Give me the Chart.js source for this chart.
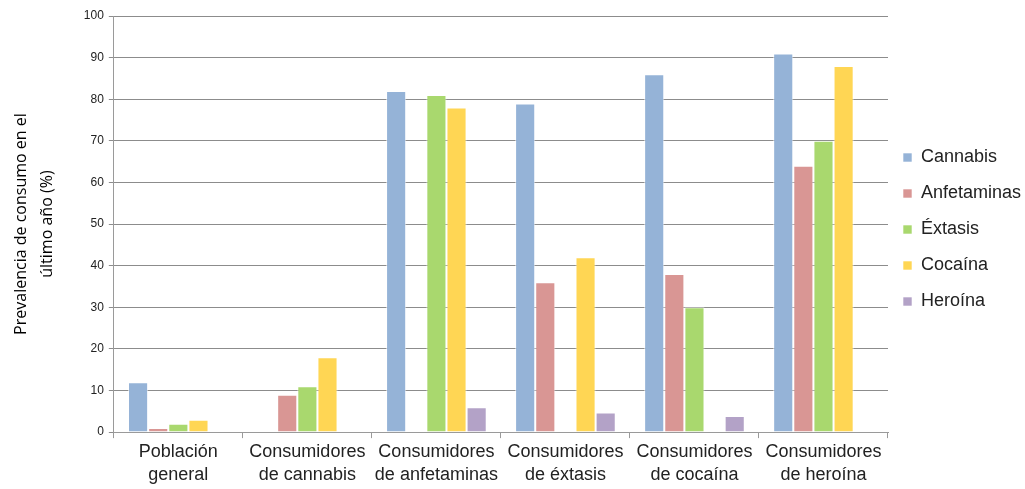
<!DOCTYPE html>
<html>
<head>
<meta charset="utf-8">
<script src="https://cdn.jsdelivr.net/npm/chart.js@4/dist/chart.umd.min.js"></script>
<style>
html,body{margin:0;padding:0;background:#fff;}
#wrap{position:relative;width:1025px;height:489px;}
</style>
</head>
<body>
<div id="wrap"><canvas id="c" width="1025" height="489"></canvas></div>
<script>
const categories = [
  ["Población", "general"],
  ["Consumidores", "de cannabis"],
  ["Consumidores", "de anfetaminas"],
  ["Consumidores", "de éxtasis"],
  ["Consumidores", "de cocaína"],
  ["Consumidores", "de heroína"]
];
const seriesNames = ["Cannabis", "Anfetaminas", "Éxtasis", "Cocaína", "Heroína"];
const cannabis    = [12, null, 82, 79, 86, 91];
const anfetaminas = [1, 9, null, 36, 38, 64];
const extasis     = [2, 11, 81, null, 30, 70];
const cocaina     = [3, 18, 78, 42, null, 88];
const heroina     = [null, null, 6, 4.7, 3.9, null];
const colors = ["#95B3D7", "#D99694", "#A9D86E", "#FFD654", "#B3A2C7"];
const yTicks = [0, 10, 20, 30, 40, 50, 60, 70, 80, 90, 100];

const seriesData = [cannabis, anfetaminas, extasis, cocaina, heroina];
const datasets = seriesNames.map((n, i) => ({
  label: n,
  data: seriesData[i],
  backgroundColor: colors[i],
  borderColor: "rgba(255,255,255,0.6)",
  borderWidth: 1,
  categoryPercentage: 0.78,
  barPercentage: 1.0
}));

// nudge the legend block up/left a little (as in the reference)
const legendShift = {
  id: "legendShift",
  afterLayout(chart) {
    const l = chart.legend;
    if (l) {
      l.bottom -= 46; l.height = l.bottom - l.top;
      l.left -= 3; l.right -= 3;
    }
  }
};

new Chart(document.getElementById("c"), {
  type: "bar",
  data: { labels: categories, datasets },
  plugins: [legendShift],
  options: {
    responsive: false,
    animation: false,
    layout: { padding: { left: 8, right: 0, top: 16, bottom: 0 } },
    plugins: {
      legend: {
        position: "right",
        align: "center",
        maxWidth: 137,
        labels: {
          boxWidth: 9,
          boxHeight: 9,
          padding: 18,
          color: "#222",
          font: { family: "Liberation Sans, Arial, sans-serif", size: 18, lineHeight: 1.2 }
        }
      },
      tooltip: { enabled: false }
    },
    scales: {
      x: {
        grid: { drawOnChartArea: false, drawTicks: true, tickLength: 6, color: "#9a9a9a", offset: true },
        border: { color: "#9a9a9a", width: 1 },
        ticks: {
          color: "#222",
          font: { family: "Liberation Sans, Arial, sans-serif", size: 18, lineHeight: 1.33 },
          maxRotation: 0,
          autoSkip: false,
          padding: 1.5
        }
      },
      y: {
        min: 0,
        max: 100,
        afterBuildTicks: (axis) => { axis.ticks = yTicks.map(v => ({ value: v })); },
        grid: { color: "#8c8c8c", lineWidth: 1, tickLength: 5 },
        border: { color: "#9a9a9a", width: 1 },
        ticks: {
          color: "#222",
          font: { family: "Liberation Sans, Arial, sans-serif", size: 12 },
          padding: 5
        },
        title: {
          display: true,
          text: ["Prevalencia de consumo en el", "último año (%)"],
          color: "#000",
          font: { family: "Open Sans, sans-serif", size: 16, lineHeight: 1.65 },
          padding: { top: 0, bottom: 18 }
        }
      }
    }
  }
});
</script>
</body>
</html>
